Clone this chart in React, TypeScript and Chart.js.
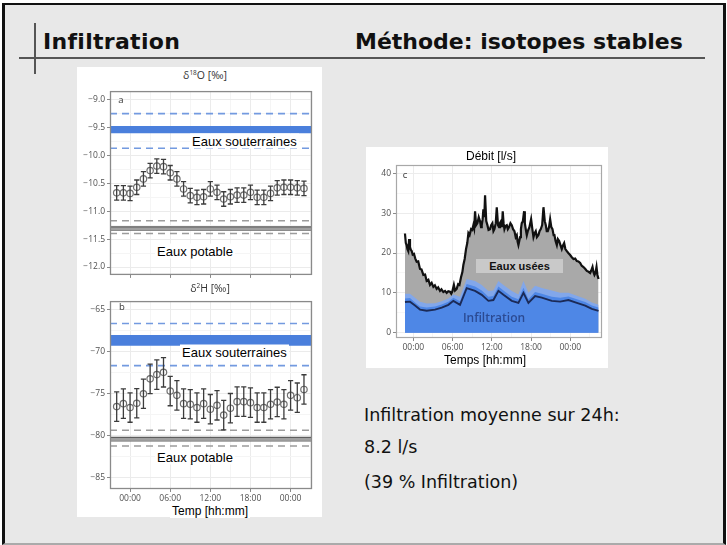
import React, { useEffect, useRef } from "react";
import { Chart, registerables } from "chart.js";
Chart.register(...registerables);

// ---------------- data ----------------
const sampleHours = [-2, -1, 0, 1, 2, 3, 4, 5, 6, 7, 8, 9, 10, 11, 12, 13, 14, 15, 16, 17, 18, 19, 20, 21, 22, 23, 24, 25, 26];
const d18OMean = [-10.67, -10.67, -10.68, -10.57, -10.42, -10.27, -10.19, -10.2, -10.31, -10.42, -10.6, -10.72, -10.75, -10.74, -10.6, -10.66, -10.78, -10.74, -10.71, -10.71, -10.66, -10.75, -10.75, -10.68, -10.58, -10.57, -10.57, -10.58, -10.59];
const d18OErr = [0.13];
const d2HMean = [-76.53, -76.18, -76.64, -76.13, -75.0, -73.23, -72.72, -72.45, -74.68, -75.19, -76.18, -76.25, -76.64, -76.18, -76.84, -76.37, -77.54, -76.72, -75.94, -75.94, -76.06, -76.64, -76.64, -76.25, -75.98, -76.25, -75.19, -75.47, -74.49];
const d2HErr = [1.75];

const d18OGroundwaterBand = [-9.47, -9.6];
const d18OGroundwaterRange = [-9.25, -9.87];
const d18OPotableBand = [-11.28, -11.34];
const d18OPotableRange = [-11.17, -11.4];
const d2HGroundwaterBand = [-68.0, -69.3];
const d2HGroundwaterRange = [-66.65, -71.66];
const d2HPotableBand = [-80.2, -80.6];
const d2HPotableRange = [-79.35, -81.22];

const d18OTicks = [-12, -11.5, -11, -10.5, -10, -9.5, -9];
const d2HTicks = [-85, -80, -75, -70, -65];
const timeTicks = [0, 6, 12, 18, 24];
const timeMinorTicks = [-3, 3, 9, 15, 21, 27];
const timeLabels = ["00:00", "06:00", "12:00", "18:00", "00:00"];
const flowTicks = [0, 10, 20, 30, 40];

const flowHours = [-1.28, -1.15, -1.02, -0.9, -0.77, -0.64, -0.51, -0.38, -0.25, -0.1, 0.1, 0.3, 0.51, 0.75, 1.02, 1.25, 1.53, 1.8, 2.04, 2.3, 2.55, 2.8, 3.06, 3.3, 3.57, 3.8, 4.08, 4.3, 4.59, 4.85, 5.1, 5.35, 5.61, 5.8, 5.97, 6.2, 6.38, 6.63, 6.85, 7.05, 7.3, 7.5, 7.65, 7.85, 8.06, 8.25, 8.42, 8.6, 8.83, 9.0, 9.18, 9.3, 9.44, 9.6, 9.8, 10.0, 10.2, 10.35, 10.46, 10.6, 10.71, 10.85, 10.97, 11.15, 11.33, 11.5, 11.73, 11.9, 12.09, 12.25, 12.4, 12.6, 12.76, 12.95, 13.11, 13.25, 13.42, 13.55, 13.67, 13.8, 13.93, 14.1, 14.29, 14.45, 14.64, 14.85, 15.05, 15.25, 15.46, 15.65, 15.82, 15.95, 16.07, 16.2, 16.33, 16.45, 16.58, 16.75, 16.94, 17.05, 17.19, 17.35, 17.5, 17.75, 18.01, 18.2, 18.37, 18.55, 18.72, 18.9, 19.13, 19.3, 19.49, 19.7, 19.9, 20.1, 20.26, 20.4, 20.56, 20.75, 20.92, 21.1, 21.28, 21.45, 21.58, 21.75, 21.94, 22.1, 22.3, 22.5, 22.7, 22.9, 23.06, 23.25, 23.47, 23.7, 23.98, 24.2, 24.49, 24.75, 25.0, 25.25, 25.51, 25.75, 26.02, 26.3, 26.53, 26.8, 27.04, 27.2, 27.4, 27.55, 27.7, 27.85, 28.01, 28.15, 28.32];
const flowTotal = [24.9, 22.5, 22.0, 21.0, 20.5, 23.5, 21.5, 20.8, 20.5, 19.6, 19.8, 18.6, 17.8, 17.9, 16.0, 15.9, 14.5, 14.6, 13.0, 13.3, 12.0, 12.5, 11.5, 11.9, 11.0, 11.4, 10.5, 10.9, 10.2, 10.5, 10.0, 10.4, 10.3, 9.8, 10.4, 12.0, 10.6, 11.0, 12.2, 12.0, 14.0, 15.2, 17.0, 18.5, 21.0, 22.5, 25.0, 24.5, 26.0, 25.8, 27.0, 26.2, 30.5, 27.0, 27.5, 29.0, 28.0, 26.5, 27.0, 28.5, 31.0, 29.0, 34.5, 28.0, 27.0, 25.8, 26.0, 27.0, 27.5, 25.5, 26.0, 27.5, 31.5, 27.0, 26.5, 27.5, 28.0, 26.5, 30.5, 27.5, 26.0, 26.8, 27.0, 26.0, 26.5, 27.5, 27.0, 26.0, 25.5, 24.0, 24.5, 22.8, 22.0, 23.0, 24.0, 26.0, 27.5, 28.0, 30.5, 27.5, 26.0, 24.5, 25.5, 26.5, 28.5, 26.0, 24.0, 25.0, 25.5, 24.0, 24.5, 25.5, 26.0, 27.0, 31.5, 28.0, 27.0, 25.5, 25.5, 26.5, 28.5, 26.5, 26.0, 24.5, 24.5, 23.0, 22.0, 23.5, 23.0, 22.0, 21.0, 22.0, 22.5, 21.0, 20.5, 20.0, 19.5, 19.0, 18.5, 18.6, 18.0, 17.9, 17.5, 16.8, 16.5, 16.0, 15.5, 15.3, 15.0, 15.6, 16.5, 15.2, 14.5, 15.0, 16.5, 14.5, 13.5];

const infilHours = [-1.28, -0.51, 0.26, 1.02, 2.04, 3.32, 4.34, 5.36, 6.12, 7.14, 8.16, 9.44, 10.46, 11.48, 12.24, 13.01, 13.78, 15.05, 16.07, 16.84, 17.6, 18.62, 19.64, 21.17, 22.45, 23.72, 25.0, 26.28, 27.3, 28.32];
const infilMean = [7.7, 7.8, 6.8, 5.8, 5.5, 5.8, 6.3, 7.0, 8.0, 7.0, 11.2, 10.5, 9.5, 8.0, 8.2, 10.5, 9.5, 8.0, 7.5, 10.0, 7.5, 9.2, 8.8, 8.0, 7.8, 8.2, 7.5, 6.8, 6.0, 5.5];
const infilLow = [8.6, 8.7, 7.6, 6.6, 6.3, 6.6, 7.1, 7.8, 8.8, 7.9, 12.2, 11.6, 10.6, 9.0, 9.2, 11.6, 10.6, 9.0, 8.4, 11.3, 8.4, 10.2, 9.8, 9.0, 8.8, 9.1, 8.4, 7.7, 6.8, 6.3];
const infilHigh = [9.8, 9.8, 8.8, 7.8, 7.3, 7.4, 7.9, 8.6, 9.6, 9.0, 13.5, 13.0, 12.0, 10.5, 10.6, 13.0, 12.0, 10.5, 9.6, 13.0, 10.0, 11.8, 11.2, 10.6, 10.0, 10.0, 9.3, 8.5, 7.6, 7.0];

// ---------------- helpers ----------------
const TICK_FONT = { family: "'Open Sans', sans-serif", size: 8.5 };
const TICK_COLOR = "#505050";

const framePlugin = {
  id: "frame",
  afterDatasetsDraw(chart: any, _a: any, opts: any) {
    const { ctx, chartArea: a } = chart;
    ctx.save();
    ctx.strokeStyle = opts.color || "#888";
    ctx.lineWidth = opts.width || 1;
    ctx.strokeRect(a.left + 0.5, a.top + 0.5, a.right - a.left - 1, a.bottom - a.top - 1);
    ctx.restore();
  },
};

const errorBarPlugin = {
  id: "errorBars",
  afterDatasetsDraw(chart: any, _a: any, opts: any) {
    if (!opts || opts.err == null) return;
    const meta = chart.getDatasetMeta(0);
    const ys = chart.scales.y;
    const data = chart.data.datasets[0].data;
    const ctx = chart.ctx;
    ctx.save();
    ctx.strokeStyle = opts.color;
    ctx.lineWidth = opts.width;
    meta.data.forEach((el: any, i: number) => {
      const v = data[i].y;
      const x = el.x;
      const yt = ys.getPixelForValue(v + opts.err);
      const yb = ys.getPixelForValue(v - opts.err);
      ctx.beginPath();
      ctx.moveTo(x, yt);
      ctx.lineTo(x, yb);
      ctx.moveTo(x - opts.cap, yt);
      ctx.lineTo(x + opts.cap, yt);
      ctx.moveTo(x - opts.cap, yb);
      ctx.lineTo(x + opts.cap, yb);
      ctx.stroke();
    });
    ctx.restore();
  },
};

function hLine(y: number, x0: number, x1: number, color: string, width: number, dash: number[], fillTo?: number, fillColor?: string) {
  return {
    type: "line",
    data: [{ x: x0, y }, { x: x1, y }],
    borderColor: color,
    borderWidth: width,
    borderDash: dash,
    pointRadius: 0,
    fill: fillTo !== undefined ? { value: fillTo } : false,
    backgroundColor: fillColor || "transparent",
    order: 5,
  };
}

function isoConfig(o: any) {
  const xMin = -3, xMax = 27.2;
  const blueDash = "#739ae0";
  const grayDash = "#9c9c9c";
  const datasets: any[] = [
    {
      type: "line",
      data: sampleHours.map((h, i) => ({ x: h, y: o.values[i] })),
      showLine: false,
      pointRadius: 3.2,
      pointBorderColor: "#6f6f6f",
      pointBackgroundColor: "rgba(255,255,255,0)",
      pointBorderWidth: 1.2,
      order: 0,
    },
    hLine(o.gwBand[0], xMin, xMax, "#4a7fdc", 0, [], o.gwBand[1], "#4a7fdc"),
    hLine(o.gwRange[0], xMin, xMax, blueDash, 1.6, [7, 5]),
    hLine(o.gwRange[1], xMin, xMax, blueDash, 1.6, [7, 5]),
    hLine(o.potBand[0], xMin, xMax, "#5e5e5e", 1.2, [], o.potBand[1], "#a0a0a0"),
    hLine(o.potBand[1], xMin, xMax, "#5e5e5e", 1.2, []),
    hLine(o.potRange[0], xMin, xMax, grayDash, 1.6, [7, 5]),
    hLine(o.potRange[1], xMin, xMax, grayDash, 1.6, [7, 5]),
  ];
  const yAll = o.yTicks.slice();
  for (let i = 0; i < o.yTicks.length - 1; i++) yAll.push((o.yTicks[i] + o.yTicks[i + 1]) / 2);
  return {
    type: "line",
    data: { datasets },
    plugins: [framePlugin, errorBarPlugin],
    options: {
      animation: false,
      responsive: false,
      devicePixelRatio: 1,
      layout: { padding: o.padding },
      plugins: {
        legend: { display: false },
        tooltip: { enabled: false },
        frame: { color: "#8a8a8a", width: 1.3 },
        errorBars: { err: o.err, color: "#3c3c3c", width: 1.3, cap: 2.6 },
      },
      scales: {
        x: {
          type: "linear",
          min: xMin,
          max: xMax,
          afterBuildTicks: (s: any) => {
            s.ticks = [...timeTicks, ...timeMinorTicks].sort((a, b) => a - b).map((v) => ({ value: v }));
          },
          afterFit: (s: any) => {
            s.height = o.xH;
          },
          ticks: {
            autoSkip: false,
            maxRotation: 0,
            padding: 1,
            font: TICK_FONT,
            color: TICK_COLOR,
            callback: (v: number) => {
              const k = timeTicks.indexOf(v);
              return o.xLabels && k >= 0 ? timeLabels[k] : "";
            },
          },
          grid: {
            color: (c: any) => (c.tick && timeTicks.includes(c.tick.value) ? "#ebebeb" : "#f5f5f5"),
            tickColor: (c: any) => (c.tick && timeTicks.includes(c.tick.value) ? "#8a8a8a" : "rgba(0,0,0,0)"),
            tickLength: 3,
          },
          border: { display: false },
        },
        y: {
          type: "linear",
          min: o.yMin,
          max: o.yMax,
          afterBuildTicks: (s: any) => {
            s.ticks = yAll.slice().sort((a: number, b: number) => a - b).map((v: number) => ({ value: v }));
          },
          afterFit: (s: any) => {
            s.width = 33;
          },
          ticks: {
            autoSkip: false,
            padding: 2,
            font: TICK_FONT,
            color: TICK_COLOR,
            callback: (v: number) => (o.yTicks.includes(v) ? v.toFixed(o.dec).replace("-", "\u2212") : ""),
          },
          grid: {
            color: (c: any) => (c.tick && o.yTicks.includes(c.tick.value) ? "#ebebeb" : "#f5f5f5"),
            tickColor: (c: any) => (c.tick && o.yTicks.includes(c.tick.value) ? "#8a8a8a" : "rgba(0,0,0,0)"),
            tickLength: 3,
          },
          border: { display: false },
        },
      },
    },
  };
}

function flowConfig() {
  const pts = (xs: number[], ys: number[]) => xs.map((x, i) => ({ x, y: ys[i] }));
  const yAll: number[] = [];
  for (let v = 0; v <= 40; v += 5) yAll.push(v);
  return {
    type: "line",
    data: {
      datasets: [
        {
          data: pts(flowHours, flowTotal),
          borderColor: "#111",
          borderWidth: 2.2,
          pointRadius: 0,
          fill: "origin",
          backgroundColor: "#a9a9a9",
          order: 4,
        },
        {
          data: pts(infilHours, infilHigh),
          borderWidth: 0,
          pointRadius: 0,
          fill: "origin",
          backgroundColor: "#82a7ea",
          order: 3,
        },
        {
          data: pts(infilHours, infilLow),
          borderWidth: 0,
          pointRadius: 0,
          fill: "origin",
          backgroundColor: "#4e87e6",
          order: 2,
        },
        {
          data: pts(infilHours, infilMean),
          borderColor: "#1b2a57",
          borderWidth: 1.9,
          pointRadius: 0,
          fill: false,
          order: 1,
        },
      ],
    },
    plugins: [framePlugin],
    options: {
      animation: false,
      responsive: false,
      devicePixelRatio: 1,
      layout: { padding: { left: 0, right: 6, top: 18, bottom: 17 } },
      plugins: {
        legend: { display: false },
        tooltip: { enabled: false },
        frame: { color: "#a8a8a8", width: 1.2 },
      },
      scales: {
        x: {
          type: "linear",
          min: -2.65,
          max: 28.85,
          afterBuildTicks: (s: any) => {
            s.ticks = [...timeTicks, 3, 9, 15, 21, 27].sort((a, b) => a - b).map((v) => ({ value: v }));
          },
          afterFit: (s: any) => {
            s.height = 13;
          },
          ticks: {
            autoSkip: false,
            maxRotation: 0,
            padding: 1,
            font: TICK_FONT,
            color: TICK_COLOR,
            callback: (v: number) => {
              const k = timeTicks.indexOf(v);
              return k >= 0 ? timeLabels[k] : "";
            },
          },
          grid: {
            color: (c: any) => (c.tick && timeTicks.includes(c.tick.value) ? "#ececec" : "#f6f6f6"),
            tickColor: (c: any) => (c.tick && timeTicks.includes(c.tick.value) ? "#8a8a8a" : "rgba(0,0,0,0)"),
            tickLength: 3,
          },
          border: { display: false },
        },
        y: {
          type: "linear",
          min: -1.33,
          max: 42.1,
          afterBuildTicks: (s: any) => {
            s.ticks = yAll.map((v) => ({ value: v }));
          },
          afterFit: (s: any) => {
            s.width = 30;
          },
          ticks: {
            autoSkip: false,
            padding: 2,
            font: TICK_FONT,
            color: TICK_COLOR,
            callback: (v: number) => (flowTicks.includes(v) ? String(v) : ""),
          },
          grid: {
            color: (c: any) => (c.tick && flowTicks.includes(c.tick.value) ? "#ececec" : "#f6f6f6"),
            tickColor: (c: any) => (c.tick && flowTicks.includes(c.tick.value) ? "#8a8a8a" : "rgba(0,0,0,0)"),
            tickLength: 3,
          },
          border: { display: false },
        },
      },
    },
  };
}

// ---------------- component ----------------
const abs = (s: any) => ({ position: "absolute" as const, whiteSpace: "nowrap" as const, lineHeight: 1, ...s });
const centered = (x: number, y: number, s: any = {}) => abs({ left: x, top: y, transform: "translate(-50%,-50%)", ...s });
const leftMid = (x: number, y: number, s: any = {}) => abs({ left: x, top: y, transform: "translateY(-50%)", ...s });

const ARIAL = "'Liberation Sans', Arial, sans-serif";
const OPEN = "'Open Sans', sans-serif";
const DEJA = "'DejaVu Sans', sans-serif";
const sup = { fontSize: "0.62em", position: "relative" as const, top: "-0.55em" };

export default function App() {
  const refA = useRef<HTMLCanvasElement>(null);
  const refB = useRef<HTMLCanvasElement>(null);
  const refC = useRef<HTMLCanvasElement>(null);

  useEffect(() => {
    const a = new Chart(
      refA.current as any,
      isoConfig({
        values: d18OMean,
        err: d18OErr[0],
        gwBand: d18OGroundwaterBand,
        gwRange: d18OGroundwaterRange,
        potBand: d18OPotableBand,
        potRange: d18OPotableRange,
        yTicks: d18OTicks,
        yMin: -12.141,
        yMax: -8.846,
        dec: 1,
        xLabels: false,
        xH: 5,
        padding: { left: 0, right: 10, top: 5, bottom: 1.5 },
      }) as any
    );
    const b = new Chart(
      refB.current as any,
      isoConfig({
        values: d2HMean,
        err: d2HErr[0],
        gwBand: d2HGroundwaterBand,
        gwRange: d2HGroundwaterRange,
        potBand: d2HPotableBand,
        potRange: d2HPotableRange,
        yTicks: d2HTicks,
        yMin: -86.33,
        yMax: -63.98,
        dec: 0,
        xLabels: true,
        xH: 13,
        padding: { left: 0, right: 10, top: 5, bottom: 14 },
      }) as any
    );
    const c = new Chart(refC.current as any, flowConfig() as any);
    return () => {
      a.destroy();
      b.destroy();
      c.destroy();
    };
  }, []);

  const labelBox = { background: "#fff", padding: "1px 2px", fontFamily: ARIAL, fontSize: 13, color: "#000" };

  return (
    <div style={{ position: "absolute", left: 0, top: 0, width: 727, height: 545, background: "#fff", overflow: "hidden" }}>
      {/* slide */}
      <div
        style={{
          position: "absolute",
          left: 2,
          top: 3,
          width: 724,
          height: 542,
          boxSizing: "border-box",
          background: "#e8e8e8",
          borderLeft: "3px solid #111",
          borderTop: "2px solid #111",
          borderRight: "3px solid #111",
          borderBottom: "2px solid #aaa",
        }}
      />
      <div style={{ position: "absolute", left: 19, top: 57, width: 686, height: 2, background: "#555" }} />
      <div style={{ position: "absolute", left: 34, top: 23, width: 2, height: 51, background: "#555" }} />
      <div style={abs({ left: 43, top: 31, fontFamily: DEJA, fontWeight: "bold", fontSize: 22, color: "#111", letterSpacing: 0.3 })}>Infiltration</div>
      <div style={abs({ left: 355, top: 31, fontFamily: DEJA, fontWeight: "bold", fontSize: 22, color: "#111" })}>Méthode: isotopes stables</div>

      {/* left white panel */}
      <div style={{ position: "absolute", left: 77, top: 67, width: 245, height: 450, background: "#fff" }} />
      <canvas ref={refA} width={245} height={198} style={{ position: "absolute", left: 77, top: 84, width: 245, height: 198 }} />
      <canvas ref={refB} width={245} height={222} style={{ position: "absolute", left: 77, top: 294, width: 245, height: 222 }} />
      <div style={centered(205, 75, { fontFamily: OPEN, fontSize: 10.5, color: "#333" })}>
        δ<span style={sup}>18</span>O [‰]
      </div>
      <div style={centered(210, 288, { fontFamily: OPEN, fontSize: 10.5, color: "#333" })}>
        δ<span style={sup}>2</span>H [‰]
      </div>
      <div style={centered(121, 100, { fontFamily: OPEN, fontSize: 9.5, color: "#333" })}>a</div>
      <div style={centered(122, 307, { fontFamily: OPEN, fontSize: 9.5, color: "#333" })}>b</div>
      <div style={leftMid(190, 141, labelBox)}>Eaux souterraines</div>
      <div style={leftMid(155, 251, labelBox)}>Eaux potable</div>
      <div style={leftMid(180, 352, labelBox)}>Eaux souterraines</div>
      <div style={leftMid(155, 457, labelBox)}>Eaux potable</div>
      <div style={centered(210, 511, { ...labelBox, fontSize: 12 })}>Temp [hh:mm]</div>

      {/* right chart */}
      <div style={{ position: "absolute", left: 366, top: 147, width: 242, height: 221, background: "#fff" }} />
      <canvas ref={refC} width={242} height={221} style={{ position: "absolute", left: 366, top: 147, width: 242, height: 221 }} />
      <div style={centered(405, 175, { fontFamily: OPEN, fontSize: 9.5, color: "#333" })}>c</div>
      <div style={centered(491, 156, { fontFamily: ARIAL, fontSize: 12, color: "#000" })}>Débit [l/s]</div>
      <div style={centered(485, 360, { fontFamily: ARIAL, fontSize: 12, color: "#000" })}>Temps [hh:mm]</div>
      <div
        style={abs({
          left: 476,
          top: 259,
          width: 87,
          height: 14,
          background: "#c9c9c9",
          fontFamily: ARIAL,
          fontWeight: "bold",
          fontSize: 11,
          lineHeight: "14px",
          textAlign: "center",
          color: "#111",
        })}
      >
        Eaux usées
      </div>
      <div style={centered(494, 318, { fontFamily: OPEN, fontWeight: 600, fontSize: 12, color: "#2b4a92" })}>Infiltration</div>

      {/* body text */}
      <div style={abs({ left: 364, top: 407, fontFamily: DEJA, fontSize: 17.5, color: "#111" })}>Infiltration moyenne sur 24h:</div>
      <div style={abs({ left: 364, top: 438.5, fontFamily: DEJA, fontSize: 17.5, color: "#111" })}>8.2 l/s</div>
      <div style={abs({ left: 364, top: 473.5, fontFamily: DEJA, fontSize: 17.5, color: "#111" })}>(39 % Infiltration)</div>
    </div>
  );
}
